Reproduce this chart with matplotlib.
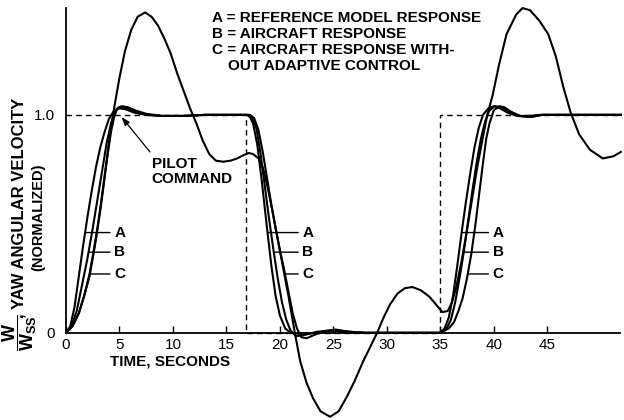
import numpy as np
import matplotlib
matplotlib.use("Agg")
import matplotlib.pyplot as plt

plt.rcParams['font.family'] = ['Liberation Sans', 'DejaVu Sans']
plt.rcParams['mathtext.default'] = 'regular'

# pilot command (step input), seconds / normalized
cmd_t = [0.0, 16.8, 16.8, 35.0, 35.0, 51.9]
cmd_y = [1.0, 1.0, 0.0, 0.0, 1.0, 1.0]

# A = reference model response
a_t = [0, 0.4, 0.8, 1.2, 1.6, 2.0, 2.4, 2.8, 3.2, 3.6, 4.0, 4.5, 5.0, 5.6, 6.4, 7.5, 9.0, 11.0, 13.0, 16.9,
       17.2, 17.5, 17.9, 18.3, 18.8, 19.2, 19.6, 20.0, 20.5, 21.0, 22.0, 23.5, 25.0, 26.5, 35.0,
       35.4, 35.8, 36.2, 36.6, 37.0, 37.4, 37.8, 38.2, 38.6, 39.0, 39.5, 40.0, 40.6, 41.3, 42.2, 43.2, 44.5, 51.9]
a_y = [0, 0.03, 0.12, 0.26, 0.40, 0.53, 0.65, 0.76, 0.85, 0.92, 0.98, 1.02, 1.03, 1.025, 1.01, 1.0, 0.995, 0.995, 1.0, 1.0,
       0.99, 0.96, 0.86, 0.70, 0.48, 0.31, 0.17, 0.08, 0.02, 0.0, -0.005, 0.0, 0.01, 0.0, 0.0,
       0.02, 0.07, 0.17, 0.31, 0.46, 0.60, 0.73, 0.85, 0.94, 1.0, 1.03, 1.04, 1.03, 1.01, 0.995, 0.995, 1.0, 1.0]

# B = aircraft response
b_t = [0, 0.5, 1.0, 1.5, 2.0, 2.5, 3.0, 3.4, 3.8, 4.2, 4.6, 5.0, 5.6, 6.4, 7.5, 9.0, 11.0, 13.0, 17.0,
       17.4, 17.8, 18.2, 18.6, 19.0, 19.4, 19.8, 20.2, 20.6, 21.0, 21.5, 22.3, 23.5, 25.0, 26.5, 28.0, 35.0,
       35.6, 36.0, 36.4, 36.8, 37.2, 37.6, 38.0, 38.4, 38.8, 39.2, 39.6, 40.1, 40.7, 41.4, 42.3, 43.3, 44.5, 51.9]
b_y = [0, 0.03, 0.10, 0.22, 0.34, 0.48, 0.63, 0.75, 0.87, 0.96, 1.02, 1.035, 1.03, 1.015, 1.0, 0.995, 0.995, 1.0, 1.0,
       0.99, 0.94, 0.82, 0.67, 0.52, 0.38, 0.25, 0.14, 0.06, 0.01, -0.015, -0.01, 0.005, 0.012, 0.005, 0.0, 0.0,
       0.02, 0.06, 0.14, 0.25, 0.37, 0.51, 0.65, 0.78, 0.89, 0.97, 1.02, 1.04, 1.035, 1.015, 0.995, 0.99, 1.0, 1.0]

# C = aircraft response without adaptive control
c_t = [0, 0.6, 1.2, 1.7, 2.2, 2.6, 2.9, 3.2, 3.5, 3.9, 4.2, 4.5, 4.8, 5.2, 5.8, 6.5, 7.5, 9.0, 11.0, 13.0, 17.2,
       17.6, 18.0, 18.4, 18.8, 19.2, 19.6, 20.0, 20.4, 20.8, 21.2, 21.6, 22.0, 22.5, 23.2, 24.2, 25.2, 26.5, 28.0, 35.0,
       35.8, 36.3, 36.7, 37.1, 37.5, 37.9, 38.3, 38.7, 39.0, 39.3, 39.6, 40.0, 40.5, 41.0, 41.6, 42.5, 43.5, 44.5, 51.9]
c_y = [0, 0.03, 0.09, 0.17, 0.26, 0.37, 0.46, 0.56, 0.67, 0.82, 0.92, 0.99, 1.03, 1.04, 1.035, 1.02, 1.005, 0.995, 0.995, 1.0, 1.0,
       0.985, 0.93, 0.83, 0.71, 0.59, 0.48, 0.38, 0.29, 0.19, 0.09, 0.02, -0.02, -0.025, -0.01, 0.008, 0.015, 0.005, 0.0, 0.0,
       0.02, 0.05, 0.10, 0.16, 0.25, 0.36, 0.50, 0.66, 0.78, 0.89, 0.96, 1.02, 1.04, 1.035, 1.015, 0.995, 0.99, 1.0, 1.0]

# large oscillating response
d_t = [0, 0.6, 1.2, 1.7, 2.2, 2.6, 2.9, 3.2, 3.5, 3.9, 4.2, 4.6, 5.0, 5.5, 6.1, 6.7, 7.4, 8.0, 8.6, 9.2, 9.8,
       10.4, 11.0, 11.6, 12.2, 12.8, 13.4, 14.0, 14.7, 15.4, 16.0, 16.6, 17.1, 17.5, 18.0, 18.4, 18.8, 19.3, 19.8,
       20.3, 20.8, 21.4, 21.9, 22.5, 23.1, 23.8, 24.7, 25.5, 26.3, 27.0, 27.8, 28.5, 29.1, 29.7, 30.3, 31.0, 31.7,
       32.4, 33.2, 34.0, 34.6, 35.2, 35.7, 36.1, 36.5, 37.0, 37.5, 38.0, 38.5, 39.0, 39.4, 39.9, 40.5, 41.2, 42.1,
       42.7, 43.4, 44.3, 45.1, 45.8, 46.5, 47.2, 48.0, 49.0, 50.2, 51.2, 51.9]
d_y = [0, 0.03, 0.09, 0.17, 0.27, 0.38, 0.47, 0.57, 0.68, 0.83, 0.94, 1.06, 1.17, 1.29, 1.39, 1.45, 1.47, 1.45, 1.41, 1.35, 1.28,
       1.19, 1.11, 1.03, 0.96, 0.88, 0.82, 0.79, 0.785, 0.79, 0.80, 0.815, 0.825, 0.82, 0.80, 0.76, 0.68, 0.56, 0.43,
       0.30, 0.17, 0.0, -0.13, -0.23, -0.30, -0.36, -0.385, -0.36, -0.29, -0.22, -0.13, -0.06, 0.0, 0.07, 0.13, 0.18, 0.205,
       0.21, 0.195, 0.165, 0.13, 0.095, 0.10, 0.14, 0.21, 0.33, 0.47, 0.62, 0.77, 0.90, 1.0, 1.09, 1.23, 1.37, 1.46,
       1.49, 1.48, 1.43, 1.37, 1.27, 1.13, 1.01, 0.91, 0.84, 0.80, 0.81, 0.83]

x_ticks = [0, 5, 10, 15, 20, 25, 30, 35, 40, 45]
label_levels = [0.46, 0.37, 0.27]      # heights of the A / B / C call-outs
label_text_t = [4.5, 22.1, 39.9]       # where the call-out letters sit
label_windows = [(0, 5), (16.5, 22), (35, 41)]


def t_at(ts, ys, level, lo, hi):
    ts = np.asarray(ts)
    ys = np.asarray(ys)
    m = (ts >= lo) & (ts <= hi)
    seg_t, seg_y = ts[m], ys[m]
    # only the monotonic stretch of the step
    k = (seg_y > 0.03) & (seg_y < 0.97)
    seg_t, seg_y = seg_t[k], seg_y[k]
    order = np.argsort(seg_y)
    return float(np.interp(level, seg_y[order], seg_t[order]))


fig = plt.figure(figsize=(6.24, 4.2), dpi=100)
ax = fig.add_axes([0.1058, 0.0, 0.8910, 0.986])
ax.set_xlim(0, 52.0)
ax.set_ylim(-0.4, 1.5)

ax.plot(cmd_t, cmd_y, color='black', lw=1.0, ls=(0, (4, 3)))
for tt, yy in [(d_t, d_y), (a_t, a_y), (b_t, b_y), (c_t, c_y)]:
    ax.plot(tt, yy, color='black', lw=1.5, solid_joinstyle='round')

for spine in ['top', 'right']:
    ax.spines[spine].set_visible(False)
ax.spines['bottom'].set_position(('data', 0))
ax.spines['bottom'].set_bounds(0, 51.8)
ax.spines['left'].set_bounds(0, 1.49)
ax.spines['bottom'].set_linewidth(1.3)
ax.spines['left'].set_linewidth(1.3)

ax.set_xticks(x_ticks)
ax.set_xticklabels([str(v) for v in x_ticks])
ax.tick_params(axis='x', direction='in', length=5, width=1, labelsize=11, pad=4)
ax.set_yticks([0, 1.0])
ax.set_yticklabels(['0', '1.0'])
ax.tick_params(axis='y', length=0, labelsize=11, pad=8)

# A / B / C call-outs
curves = [(a_t, a_y), (b_t, b_y), (c_t, c_y)]
for (lo, hi), tx in zip(label_windows, label_text_t):
    for letter, (tt, yy), lvl in zip('ABC', curves, label_levels):
        t0 = t_at(tt, yy, lvl, lo, hi)
        ax.annotate(letter, xy=(t0, lvl), xytext=(tx, lvl), ha='left', va='center',
                    fontsize=11, fontweight='bold',
                    arrowprops=dict(arrowstyle='-', lw=1.0, color='black',
                                    shrinkA=1, shrinkB=0))

ax.text(8.0, 0.74, 'PILOT\nCOMMAND', ha='left', va='center', fontsize=11,
        fontweight='bold', linespacing=1.05)
ax.annotate('', xy=(5.2, 0.99), xytext=(7.85, 0.83),
            arrowprops=dict(arrowstyle='-|>,head_length=0.5,head_width=0.18',
                            lw=0.9, color='black', shrinkA=0, shrinkB=0))

fig.text(170 / 624, 1 - 361 / 420, 'TIME, SECONDS', ha='center', va='center',
         fontsize=11, fontweight='bold')

legend_lines = ['A = REFERENCE MODEL RESPONSE', 'B = AIRCRAFT RESPONSE',
                'C = AIRCRAFT RESPONSE WITH-', 'OUT ADAPTIVE CONTROL']
legend_x = [212, 212, 212, 228]
legend_y = [18, 34, 50, 66]
for s, px, py in zip(legend_lines, legend_x, legend_y):
    fig.text(px / 624, 1 - py / 420, s, ha='left', va='center', fontsize=11,
             fontweight='bold')

# y-axis title: W / Wss fraction, then the words
fig.text(20 / 624, 1 - 333 / 420, r'$\dfrac{W}{W_{SS}}$', rotation=90,
         ha='center', va='center', fontsize=13, fontweight='bold')
fig.text(19 / 624, 1 - 318 / 420, ', YAW ANGULAR VELOCITY', rotation=90,
         ha='center', va='bottom', fontsize=12, fontweight='bold')
fig.text(38 / 624, 1 - 217 / 420, '(NORMALIZED)', rotation=90, ha='center',
         va='center', fontsize=10.5, fontweight='bold')

fig.savefig('out.png', dpi=100, facecolor='white')
